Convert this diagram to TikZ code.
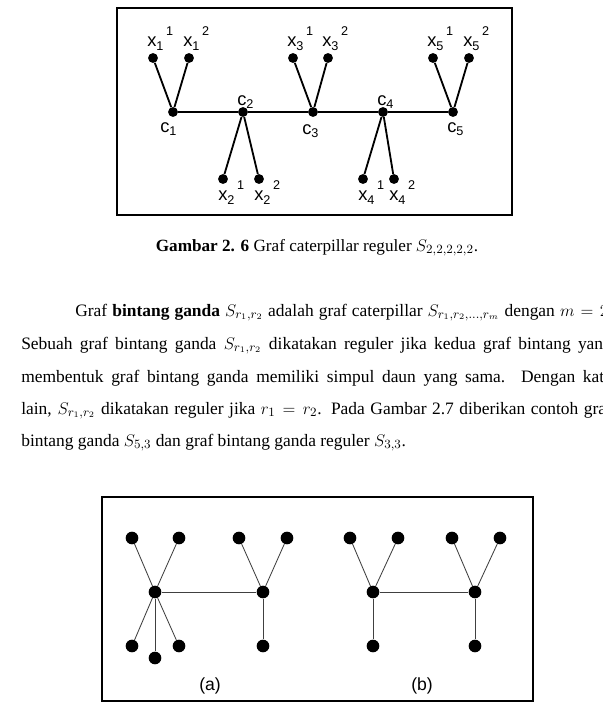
\documentclass[tikz,border=0pt]{standalone}
\usepackage{amsmath}
\usepackage{fontspec}
\setmainfont{Liberation Serif}
\setsansfont{Liberation Sans}
\usepackage{tikz}
\usetikzlibrary{positioning, calc}

\newcommand{\xlab}[2]{x\raisebox{-0.45ex}{\fontsize{9}{9}\selectfont #1}\hspace{0.15em}\raisebox{1.05ex}{\fontsize{9}{9}\selectfont #2}}
\newcommand{\clab}[1]{c\raisebox{-0.35ex}{\fontsize{9}{9}\selectfont #1}}

\begin{document}
\begin{tikzpicture}[
        x=0.025cm, y=-0.025cm,
        dot/.style={circle, fill=black, inner sep=0pt, minimum size=7pt},
        bigdot/.style={circle, fill=black, inner sep=0pt, minimum size=9pt},
        edge/.style={black, line width=1.3pt},
        thinedge/.style={black!75, line width=0.6pt},
        lab/.style={font=\sffamily\fontsize{13}{13}\selectfont, inner sep=0pt, anchor=base west},
        frame/.style={draw=black, line width=1pt},
        txt/.style={anchor=base west, inner sep=0pt, font=\fontsize{12.4}{15}\selectfont}
    ]
        \clip (0,0) rectangle (603,705);
        \fill[white] (0,0) rectangle (603,705);

        % ================= GAMBAR 2.6 =================
        \draw[frame] (117,8) rectangle (512,215);

        % tulang punggung
        \node[dot] (c1) at (173,112) {};
        \node[dot] (c2) at (243,112) {};
        \node[dot] (c3) at (313,112) {};
        \node[dot] (c4) at (383,112) {};
        \node[dot] (c5) at (453,112) {};

        % daun atas
        \node[dot] (x11) at (153,58) {};
        \node[dot] (x12) at (189,58) {};
        \node[dot] (x31) at (293,58) {};
        \node[dot] (x32) at (328,58) {};
        \node[dot] (x51) at (433,58) {};
        \node[dot] (x52) at (469,58) {};

        % daun bawah
        \node[dot] (x21) at (223,179) {};
        \node[dot] (x22) at (259,179) {};
        \node[dot] (x41) at (363,179) {};
        \node[dot] (x42) at (394,179) {};

        \draw[edge] (c1) -- (c2) -- (c3) -- (c4) -- (c5);
        \draw[edge] (x11) -- (c1) -- (x12);
        \draw[edge] (x31) -- (c3) -- (x32);
        \draw[edge] (x51) -- (c5) -- (x52);
        \draw[edge] (x21) -- (c2) -- (x22);
        \draw[edge] (x41) -- (c4) -- (x42);

        % label simpul
        \node[lab] (lx11) at ($(x11)+(-6,-12)$) {\xlab{1}{1}};
        \node[lab] (lx12) at ($(x12)+(-6,-12)$) {\xlab{1}{2}};
        \node[lab] (lx31) at ($(x31)+(-6,-12)$) {\xlab{3}{1}};
        \node[lab] (lx32) at ($(x32)+(-6,-12)$) {\xlab{3}{2}};
        \node[lab] (lx51) at ($(x51)+(-6,-12)$) {\xlab{5}{1}};
        \node[lab] (lx52) at ($(x52)+(-6,-12)$) {\xlab{5}{2}};
        \node[lab] (lx21) at ($(x21)+(-5,21)$) {\xlab{2}{1}};
        \node[lab] (lx22) at ($(x22)+(-5,21)$) {\xlab{2}{2}};
        \node[lab] (lx41) at ($(x41)+(-5,21)$) {\xlab{4}{1}};
        \node[lab] (lx42) at ($(x42)+(-5,21)$) {\xlab{4}{2}};
        \node[lab] (lc1) at ($(c1)+(-13,20)$) {\clab{1}};
        \node[lab] (lc2) at ($(c2)+(-6,-7)$) {\clab{2}};
        \node[lab] (lc3) at ($(c3)+(-11,22)$) {\clab{3}};
        \node[lab] (lc4) at ($(c4)+(-6,-7)$) {\clab{4}};
        \node[lab] (lc5) at ($(c5)+(-6,20)$) {\clab{5}};

        % ================= TEKS =================
        \node[anchor=base, inner sep=0pt, font=\fontsize{12.2}{15}\selectfont] (cap) at (317,251)
            {\textbf{Gambar 2. 6} Graf caterpillar reguler $S_{2,2,2,2,2}$.};

        \node[txt] (p1) at (75,316) {\makebox[382pt][s]{Graf \textbf{bintang ganda} $S_{r_1,r_2}$ adalah graf caterpillar $S_{r_1,r_2,\dots,r_m}$ dengan $m = 2$.}};
        \node[txt] (p2) at (21,349) {\makebox[420pt][s]{Sebuah graf bintang ganda $S_{r_1,r_2}$ dikatakan reguler jika kedua graf bintang yang}};
        \node[txt] (p3) at (21,382) {\makebox[420pt][s]{membentuk graf bintang ganda memiliki simpul daun yang sama. Dengan kata}};
        \node[txt] (p4) at (21,414) {\makebox[420pt][s]{lain, $S_{r_1,r_2}$ dikatakan reguler jika $r_1 = r_2$. Pada Gambar 2.7 diberikan contoh graf}};
        \node[txt] (p5) at (21,446) {bintang ganda $S_{5,3}$ dan graf bintang ganda reguler $S_{3,3}$.};

        % ================= GAMBAR 2.7 =================
        \draw[frame] (102,497) rectangle (533,701);

        % (a) bintang ganda S_{5,3}
        \node[bigdot] (a1) at (155,592) {};
        \node[bigdot] (a2) at (263,592) {};
        \node[bigdot] (au1) at (132,538) {};
        \node[bigdot] (au2) at (179,538) {};
        \node[bigdot] (au3) at (239,538) {};
        \node[bigdot] (au4) at (287,538) {};
        \node[bigdot] (ab1) at (132,646) {};
        \node[bigdot] (ab2) at (155,658) {};
        \node[bigdot] (ab3) at (179,646) {};
        \node[bigdot] (ab4) at (263,646) {};

        \draw[thinedge] (a1) -- (a2);
        \draw[thinedge] (au1) -- (a1) -- (au2);
        \draw[thinedge] (ab1) -- (a1) -- (ab3);
        \draw[thinedge] (a1) -- (ab2);
        \draw[thinedge] (au3) -- (a2) -- (au4);
        \draw[thinedge] (a2) -- (ab4);

        % (b) bintang ganda reguler S_{3,3}
        \node[bigdot] (b1) at (373,592) {};
        \node[bigdot] (b2) at (475,592) {};
        \node[bigdot] (bu1) at (350,538) {};
        \node[bigdot] (bu2) at (398,538) {};
        \node[bigdot] (bu3) at (452,538) {};
        \node[bigdot] (bu4) at (500,538) {};
        \node[bigdot] (bb1) at (373,646) {};
        \node[bigdot] (bb2) at (475,646) {};

        \draw[thinedge] (b1) -- (b2);
        \draw[thinedge] (bu1) -- (b1) -- (bu2);
        \draw[thinedge] (b1) -- (bb1);
        \draw[thinedge] (bu3) -- (b2) -- (bu4);
        \draw[thinedge] (b2) -- (bb2);

        \node[font=\sffamily\fontsize{12.5}{13}\selectfont] (la) at (210,686) {(a)};
        \node[font=\sffamily\fontsize{12.5}{13}\selectfont] (lb) at (422,686) {(b)};

    \end{tikzpicture}
\end{document}
